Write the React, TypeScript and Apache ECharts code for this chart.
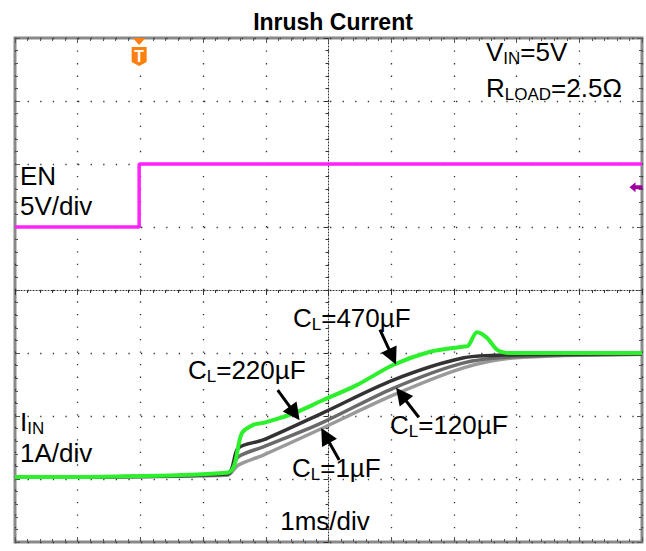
import React, { useEffect, useRef } from "react";
import * as echarts from "echarts";

// x: time in divisions (1 ms/div) relative to screen centre; y: divisions relative to centre
const enX = [-5, -3.02, -3.02, 5];
const enY = [1.0, 1.0, 2.0, 2.0];

const c470X = [-5, -1.62, -1.38, -1.2, -1.04, -0.61, -0.09, 0.45, 1.03, 1.62, 2.14, 2.22, 2.37, 2.53, 2.69, 2.89, 5];
const c470Y = [-2.97, -2.9, -2.27, -2.14, -2.11, -1.98, -1.75, -1.51, -1.19, -0.98, -0.9, -0.89, -0.67, -0.76, -0.95, -1.0, -1.0];

const grayX = [-5, -1.62, -1.44, -1.04, -0.09, 1.03, 2.14, 2.94, 5];
const c220Y = [-2.97, -2.92, -2.51, -2.38, -1.95, -1.43, -1.08, -1.03, -1.01];
const c120Y = [-2.97, -2.93, -2.65, -2.49, -2.1, -1.56, -1.16, -1.06, -1.02];
const c1Y = [-2.97, -2.94, -2.78, -2.62, -2.19, -1.67, -1.24, -1.08, -1.02];

const triggerX = -3.02;
const enRefY = 1.63;

// arrows: [start, head]
const arrows = [
  [[0.82, -0.63], [1.02, -1.06]],
  [[-0.81, -1.59], [-0.54, -1.96]],
  [[1.44, -2.02], [1.16, -1.66]],
  [[0.17, -2.7], [-0.05, -2.31]],
];

const FONT = "Liberation Sans, Arial, sans-serif";

const zip = (xs: number[], ys: number[]) => xs.map((x, i) => [x, ys[i]]);

const rich = {
  m: { fontSize: 26, fontFamily: FONT, lineHeight: 30, fill: "#000" },
  s: { fontSize: 17, fontFamily: FONT, lineHeight: 16, verticalAlign: "bottom", fill: "#000" },
};

const txt = (x: number, y: number, text: string, align = "left") => ({
  type: "text",
  x,
  y,
  silent: true,
  z: 100,
  style: { text, rich, align, verticalAlign: "middle", fill: "#000" },
});

export default function App() {
  const ref = useRef<HTMLDivElement>(null);
  useEffect(() => {
    if (!ref.current) return;
    const chart = echarts.init(ref.current, null, { renderer: "svg" });
    const dotX = { color: "#333", width: 1.3, type: [1.3, 11.3] };
    const dotY = { color: "#333", width: 1.3, type: [1.3, 11.24] };
    const edgeAxisX = (position: string) => ({
      type: "value",
      position,
      min: -5,
      max: 5,
      interval: 1,
      axisLine: { show: false, onZero: false },
      axisTick: { show: true, inside: true, length: 5, lineStyle: { color: "#555" } },
      minorTick: { show: true, splitNumber: 5, length: 3, lineStyle: { color: "#555" } },
      axisLabel: { show: false },
      splitLine: { show: false },
    });
    const edgeAxisY = (position: string) => ({
      type: "value",
      position,
      min: -4,
      max: 4,
      interval: 1,
      axisLine: { show: false, onZero: false },
      axisTick: { show: true, inside: true, length: 5, lineStyle: { color: "#555" } },
      minorTick: { show: true, splitNumber: 5, length: 3, lineStyle: { color: "#555" } },
      axisLabel: { show: false },
      splitLine: { show: false },
    });
    const option: any = {
      animation: false,
      backgroundColor: "#fff",
      title: {
        text: "Inrush Current",
        left: 328,
        top: 5,
        textAlign: "center",
        textStyle: { fontSize: 23, fontWeight: "bold", fontFamily: FONT, color: "#000" },
      },
      grid: {
        left: 15,
        top: 38,
        width: 627,
        height: 504,
        show: true,
        borderColor: "#8a8a8a",
        borderWidth: 3,
        backgroundColor: "#fff",
      },
      xAxis: [
        {
          type: "value",
          min: -5,
          max: 5,
          interval: 1,
          axisLine: { show: true, onZero: true, lineStyle: { color: "#333", width: 1, type: [1, 2] } },
          axisTick: { show: true, length: 5, lineStyle: { color: "#333" } },
          minorTick: { show: true, splitNumber: 5, length: 3, lineStyle: { color: "#333" } },
          axisLabel: { show: false },
          splitLine: { show: true, lineStyle: dotY },
        },
        edgeAxisX("bottom"),
        edgeAxisX("top"),
      ],
      yAxis: [
        {
          type: "value",
          min: -4,
          max: 4,
          interval: 1,
          axisLine: { show: true, onZero: true, lineStyle: { color: "#333", width: 1, type: [1, 2] } },
          axisTick: { show: true, length: 5, lineStyle: { color: "#333" } },
          minorTick: { show: true, splitNumber: 5, length: 3, lineStyle: { color: "#333" } },
          axisLabel: { show: false },
          splitLine: { show: true, lineStyle: dotX },
        },
        edgeAxisY("left"),
        edgeAxisY("right"),
      ],
      series: [
        {
          name: "EN",
          type: "line",
          data: zip(enX, enY),
          symbol: "none",
          lineStyle: { color: "#ff22ff", width: 3.5 },
          markPoint: {
            silent: true,
            data: [
              {
                coord: [triggerX, 4],
                symbol: "path://M1,0 L13,0 L7,7 Z M0,9 L14,9 L14,24 L7,28 L0,24 Z",
                symbolSize: [15, 28],
                symbolOffset: [0, "50%"],
                itemStyle: { color: "#ff7f0f" },
                label: { show: true, formatter: "T", color: "#fff", fontWeight: "bold", fontSize: 16, fontFamily: FONT, offset: [0, 4] },
              },
              {
                coord: [5, enRefY],
                symbol: "path://M0,5 L6,0 L6,3 L13,3 L13,7 L6,7 L6,10 Z",
                symbolSize: [13, 10],
                symbolOffset: [-6, 0],
                itemStyle: { color: "#a000a0" },
                label: { show: false },
              },
            ],
          },
        },
        { name: "1uF", type: "line", data: zip(grayX, c1Y), symbol: "none", smooth: 0.3, lineStyle: { color: "#9a9a9a", width: 3.5 } },
        { name: "120uF", type: "line", data: zip(grayX, c120Y), symbol: "none", smooth: 0.3, lineStyle: { color: "#6a6a6a", width: 3.5 } },
        { name: "220uF", type: "line", data: zip(grayX, c220Y), symbol: "none", smooth: 0.3, lineStyle: { color: "#333333", width: 3.5 } },
        {
          name: "470uF",
          type: "line",
          data: zip(c470X, c470Y),
          symbol: "none",
          smooth: 0.3,
          lineStyle: { color: "#2cf02c", width: 4 },
          markLine: {
            silent: true,
            symbol: ["none", "triangle"],
            symbolSize: 17,
            label: { show: false },
            itemStyle: { color: "#000" },
            lineStyle: { color: "#000", width: 3, type: "solid" },
            data: arrows.map((a) => [{ coord: a[0] }, { coord: a[1] }]),
          },
        },
      ],
      graphic: [
        txt(486, 52, "{m|V}{s|IN}{m|=5V}"),
        txt(486, 88, "{m|R}{s|LOAD}{m|=2.5Ω}"),
        txt(20, 176, "{m|EN}"),
        txt(20, 206, "{m|5V/div}"),
        txt(20, 422, "{m|I}{s|IN}"),
        txt(20, 453, "{m|1A/div}"),
        txt(325, 521, "{m|1ms/div}", "center"),
        txt(293, 318, "{m|C}{s|L}{m|=470µF}"),
        txt(188, 370, "{m|C}{s|L}{m|=220µF}"),
        txt(390, 425, "{m|C}{s|L}{m|=120µF}"),
        txt(292, 468, "{m|C}{s|L}{m|=1µF}"),
      ],
    };
    chart.setOption(option);
    return () => chart.dispose();
  }, []);
  return (
    <div
      ref={ref}
      style={{ position: "fixed", left: 0, top: 0, width: 646, height: 551, background: "#fff" }}
    />
  );
}
